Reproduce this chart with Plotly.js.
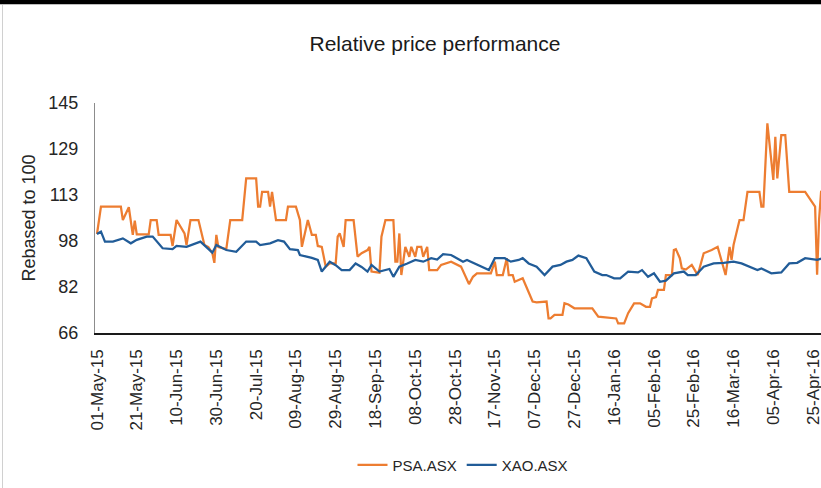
<!DOCTYPE html>
<html>
<head>
<meta charset="utf-8">
<script src="https://cdn.plot.ly/plotly-3.0.1.min.js"></script>
<style>
  html, body { margin: 0; padding: 0; background: #fff; overflow: hidden; width: 821px; height: 488px; }
  #chart { position: absolute; left: 0; top: 0; width: 880px; height: 488px; }
  #topband { position: absolute; left: 0; top: 0; width: 821px; height: 4px; background: #000; z-index: 10; }
  #topline { position: absolute; left: 0; top: 4px; width: 821px; height: 1px; background: #bdbdbd; z-index: 10; }
  #leftline { position: absolute; left: 2px; top: 5px; width: 1px; height: 483px; background: #d0d0d0; z-index: 10; }
</style>
</head>
<body>
<div id="chart"></div>
<div id="topband"></div>
<div id="topline"></div>
<div id="leftline"></div>
<script>
const chartTitle = 'Relative price performance';
const yTitle = 'Rebased to 100';
const seriesNames = ['PSA.ASX', 'XAO.ASX'];

const psaDates = ['2015-05-01','2015-05-03','2015-05-13','2015-05-14','2015-05-17','2015-05-19','2015-05-20','2015-05-21','2015-05-27','2015-05-28',
'2015-05-31','2015-06-01','2015-06-07','2015-06-08','2015-06-10','2015-06-14','2015-06-15','2015-06-17','2015-06-21','2015-06-23',
'2015-06-24','2015-06-26','2015-06-28','2015-06-29','2015-06-30','2015-07-01','2015-07-05','2015-07-07','2015-07-13','2015-07-15',
'2015-07-20','2015-07-21','2015-07-22','2015-07-23','2015-07-26','2015-07-27','2015-07-28','2015-07-30','2015-08-04','2015-08-05',
'2015-08-09','2015-08-11','2015-08-12','2015-08-15','2015-08-17','2015-08-19','2015-08-20','2015-08-22','2015-08-24','2015-08-26',
'2015-08-29','2015-08-30','2015-08-31','2015-09-02','2015-09-03','2015-09-07','2015-09-09','2015-09-11','2015-09-14','2015-09-15',
'2015-09-16','2015-09-20','2015-09-21','2015-09-23','2015-09-27','2015-09-28','2015-09-29','2015-09-30','2015-10-01','2015-10-03',
'2015-10-05','2015-10-06','2015-10-08','2015-10-09','2015-10-11','2015-10-12','2015-10-14','2015-10-15','2015-10-19','2015-10-21',
'2015-10-26','2015-10-31','2015-11-04','2015-11-06','2015-11-08','2015-11-15','2015-11-17','2015-11-18','2015-11-21','2015-11-23',
'2015-11-24','2015-11-26','2015-11-27','2015-12-01','2015-12-02','2015-12-06','2015-12-08','2015-12-13','2015-12-14','2015-12-15',
'2015-12-17','2015-12-21','2015-12-22','2015-12-24','2015-12-27','2016-01-05','2016-01-08','2016-01-15','2016-01-17','2016-01-18',
'2016-01-21','2016-01-23','2016-01-26','2016-01-29','2016-02-01','2016-02-03','2016-02-04','2016-02-06','2016-02-07','2016-02-10',
'2016-02-11','2016-02-14','2016-02-15','2016-02-16','2016-02-18','2016-02-19','2016-02-21','2016-02-24','2016-02-27','2016-03-01',
'2016-03-05','2016-03-08','2016-03-10','2016-03-12','2016-03-14','2016-03-15','2016-03-16','2016-03-19','2016-03-21','2016-03-23',
'2016-03-29','2016-03-30','2016-03-31','2016-04-02','2016-04-05','2016-04-06','2016-04-07','2016-04-09','2016-04-11','2016-04-13',
'2016-04-21','2016-04-26','2016-04-27','2016-04-28','2016-04-29','2016-05-03'];
const psaValues = [100,109.4,109.4,104.8,109.2,99.7,104.6,99.9,99.9,104.8,
104.8,99.7,99.7,95.9,104.8,100.2,96.2,104.8,104.8,99.1,
96.2,95.5,93.4,90.1,99.7,95.5,94.8,104.8,104.8,119.1,
119.1,109.4,109.4,114.5,114.5,109.4,114.5,104.8,104.8,109.4,
109.4,104.8,95.6,104.8,99.7,99.7,95.9,95.6,88.8,89.9,
89.9,99.1,100.2,95.6,104.8,104.8,92.2,93.4,94.5,95.6,
87.1,86.7,99.1,104.8,104.8,90.5,90.5,100.2,85.9,95.6,
92.2,95.6,92.2,95.6,95.6,92.2,95.6,87.6,87.6,89.4,
90.5,88.8,82.8,85.3,86.5,86.5,90.5,85.9,85.9,91.7,
85.9,85.9,83.6,84.8,83.1,76.8,76.5,76.8,71.0,71.0,
72.2,72.2,76.2,75.8,74.5,74.5,71.6,71.0,71.0,69.3,
69.3,72.8,76.2,76.2,75.0,75.0,77.9,78.3,80.8,80.8,
85.9,85.9,94.5,94.8,91.7,88.2,87.8,89.4,85.9,93.4,
94.5,95.6,91.1,85.9,95.6,91.1,96.2,104.8,104.8,114.5,
114.5,109.4,109.4,138.0,118.6,133.4,119.1,134.0,134.0,114.5,
114.5,109.4,86.0,105.0,114.5,115.0];

const xaoDates = ['2015-05-01','2015-05-03','2015-05-05','2015-05-09','2015-05-14','2015-05-18','2015-05-21','2015-05-26','2015-05-29','2015-06-03',
'2015-06-08','2015-06-10','2015-06-15','2015-06-22','2015-06-28','2015-06-30','2015-07-05','2015-07-10','2015-07-15','2015-07-20',
'2015-07-22','2015-07-25','2015-07-27','2015-07-31','2015-08-03','2015-08-06','2015-08-10','2015-08-11','2015-08-15','2015-08-17',
'2015-08-20','2015-08-22','2015-08-26','2015-08-29','2015-09-01','2015-09-05','2015-09-08','2015-09-11','2015-09-14','2015-09-16',
'2015-09-20','2015-09-25','2015-09-27','2015-09-30','2015-10-04','2015-10-08','2015-10-12','2015-10-16','2015-10-19','2015-10-22',
'2015-10-26','2015-11-01','2015-11-03','2015-11-10','2015-11-14','2015-11-17','2015-11-22','2015-11-25','2015-11-29','2015-12-01',
'2015-12-04','2015-12-08','2015-12-12','2015-12-16','2015-12-20','2015-12-23','2015-12-26','2015-12-29','2016-01-02','2016-01-06',
'2016-01-10','2016-01-12','2016-01-16','2016-01-19','2016-01-23','2016-01-28','2016-01-30','2016-02-02','2016-02-05','2016-02-08',
'2016-02-11','2016-02-15','2016-02-20','2016-02-22','2016-02-26','2016-03-01','2016-03-06','2016-03-11','2016-03-16','2016-03-20',
'2016-03-24','2016-03-28','2016-03-30','2016-04-04','2016-04-09','2016-04-13','2016-04-17','2016-04-21','2016-04-27','2016-04-30',
'2016-05-03'];
const xaoValues = [100.0,100.8,97.4,97.4,98.5,96.8,98.0,99.1,99.1,95.1,
94.8,95.9,95.6,97.4,93.6,96.2,94.5,93.9,97.4,97.4,
96.2,96.5,96.8,97.9,97.4,94.8,94.5,92.8,92.2,91.8,
91.1,87.1,90.5,89.3,87.6,87.6,89.9,88.7,87.1,89.4,
87.1,88.0,85.3,88.8,89.9,91.1,90.5,91.7,91.2,93.1,
92.8,90.5,91.1,88.8,87.6,91.7,91.7,90.5,91.1,91.7,
89.9,88.8,85.9,88.8,89.4,90.5,91.1,92.6,91.7,87.1,
85.9,85.9,84.8,84.8,87.1,86.8,87.6,85.3,86.5,83.6,
84.0,86.5,87.1,85.9,85.9,88.8,89.9,90.1,90.5,89.9,
88.8,87.6,88.2,86.5,86.8,89.9,90.1,91.7,91.1,91.7,
91.5];

const xTickVals = ['2015-05-01','2015-05-21','2015-06-10','2015-06-30','2015-07-20','2015-08-09','2015-08-29','2015-09-18','2015-10-08','2015-10-28',
'2015-11-17','2015-12-07','2015-12-27','2016-01-16','2016-02-05','2016-02-25','2016-03-16','2016-04-05','2016-04-25'];
const xTickText = ['01-May-15','21-May-15','10-Jun-15','30-Jun-15','20-Jul-15','09-Aug-15','29-Aug-15','18-Sep-15','08-Oct-15','28-Oct-15',
'17-Nov-15','07-Dec-15','27-Dec-15','16-Jan-16','05-Feb-16','25-Feb-16','16-Mar-16','05-Apr-16','25-Apr-16'];
const yTickVals = [66, 81.8, 97.6, 113.4, 129.2, 145];
const yTickText = ['66', '82', '98', '113', '129', '145'];

const FONT = 'Liberation Sans, Arial, sans-serif';

const traces = [
  { x: psaDates, y: psaValues, name: seriesNames[0], type: 'scatter', mode: 'lines',
    line: { color: '#ED7D31', width: 2.25 } },
  { x: xaoDates, y: xaoValues, name: seriesNames[1], type: 'scatter', mode: 'lines',
    line: { color: '#215C98', width: 2.25 } }
];

const layout = {
  width: 880, height: 488,
  margin: { l: 95, r: 45, t: 103, b: 155 },
  paper_bgcolor: '#ffffff', plot_bgcolor: '#ffffff',
  font: { family: FONT, color: '#262626' },
  title: { text: chartTitle, font: { family: FONT, size: 21, color: '#1a1a1a' },
           xref: 'container', x: 435/880, xanchor: 'center',
           yref: 'container', y: 1 - 44/488, yanchor: 'middle' },
  showlegend: true,
  legend: { orientation: 'h', xref: 'container', x: 463/880, xanchor: 'center',
            yref: 'container', y: 1 - 465/488, yanchor: 'middle',
            font: { family: FONT, size: 15, color: '#262626' }, itemwidth: 30, bgcolor: 'rgba(0,0,0,0)' },
  xaxis: {
    type: 'date', range: ['2015-04-30', '2016-05-06'],
    tickmode: 'array', tickvals: xTickVals, ticktext: xTickText, tickangle: -90,
    tickfont: { family: FONT, size: 17, color: '#262626' },
    ticks: 'outside', ticklen: 8, tickcolor: 'rgba(0,0,0,0)',
    showgrid: false, zeroline: false,
    showline: true, linecolor: '#1a1a1a', linewidth: 1.5,
    automargin: false, fixedrange: true
  },
  yaxis: {
    range: [66, 145],
    tickmode: 'array', tickvals: yTickVals, ticktext: yTickText,
    tickfont: { family: FONT, size: 18, color: '#262626' },
    ticks: 'outside', ticklen: 12, tickcolor: 'rgba(0,0,0,0)',
    showgrid: false, zeroline: false,
    showline: true, linecolor: '#8c8c8c', linewidth: 1,
    title: { text: yTitle, font: { family: FONT, size: 18, color: '#262626' }, standoff: 8 },
    automargin: false, fixedrange: true
  }
};

Plotly.newPlot('chart', traces, layout, { displayModeBar: false, staticPlot: true });
</script>
</body>
</html>
